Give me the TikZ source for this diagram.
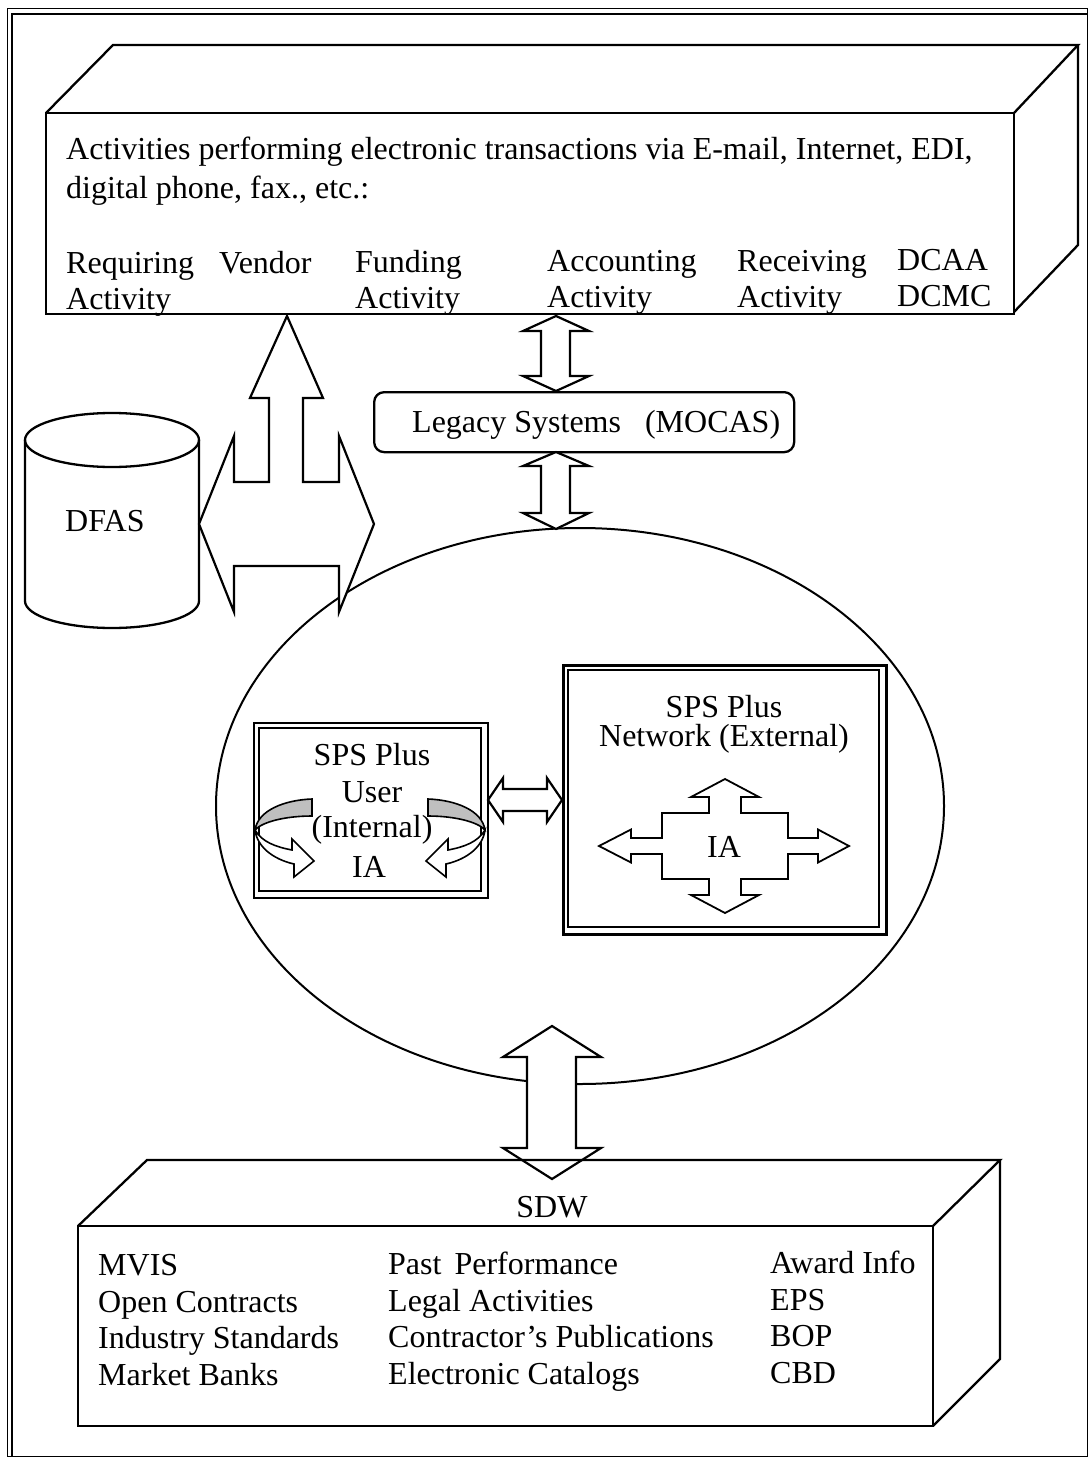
\documentclass[tikz,border=0pt]{standalone}
\usepackage{fontspec}
\setmainfont{Liberation Serif}
\begin{document}
\begin{tikzpicture}[x=1pt,y=-1pt,line join=miter]
\tikzset{
  ol/.style={line width=2.3pt},
  thinol/.style={line width=1.4pt},
  blockarrow/.style={line width=2.2pt,fill=white},
  txt/.style={font=\fontsize{32}{37}\selectfont,inner sep=0pt,anchor=base west},
  ctxt/.style={font=\fontsize{32}{37}\selectfont,inner sep=0pt,anchor=base},
  shade/.style={line width=1.6pt,fill=black!25},
  curlarrow/.style={line width=1.6pt,fill=white}
}
\useasboundingbox (0,0) rectangle (1089,1458);
\fill[white] (0,0) rectangle (1089,1458);

% frame
\draw[line width=1pt] (7,9) -- (1087,9) -- (1087,1456) -- (7,1456) -- cycle;
\draw[line width=2.2pt] (12,1456) -- (12,14) -- (1087,14);

% top box (3D)
\draw[ol] (46,113) rectangle (1014,314);
\draw[ol] (46,113) -- (113,45) -- (1078,45) -- (1014,113);
\draw[ol] (1078,45) -- (1078,245) -- (1014,312);

\node[txt] (t1) at (66,160) {Activities performing electronic transactions via E-mail, Internet, EDI,};
\node[txt] (t2) at (66,198) {digital phone, fax., etc.:};
\node[txt] (req) at (66,273) {Requiring};
\node[txt] (reqa) at (66,309) {Activity};
\node[txt] (ven) at (219,273) {Vendor};
\node[txt] (fun) at (355,272) {Funding};
\node[txt] (funa) at (355,308) {Activity};
\node[txt] (acc) at (547,271) {Accounting};
\node[txt] (acca) at (547,307) {Activity};
\node[txt] (rec) at (737,271) {Receiving};
\node[txt] (reca) at (737,307) {Activity};
\node[txt] (dcaa) at (897,270) {DCAA};
\node[txt] (dcmc) at (897,306) {DCMC};

% DFAS cylinder
\draw[ol] (25,440) -- (25,601) arc[start angle=180,end angle=0,x radius=87,y radius=27] -- (199,440);
\draw[ol] (112,440) ellipse[x radius=87,y radius=27];
\node[txt] (dfas) at (65,531) {DFAS};

% ellipse
\draw[line width=2pt] (580,806) ellipse[x radius=364,y radius=278];

% combined up / left-right arrow
\draw[blockarrow] (287,316) -- (323,398) -- (303,398) -- (303,482) -- (339,482) -- (339,436)
  -- (374,524) -- (339,612) -- (339,566) -- (234,566) -- (234,612) -- (199,524)
  -- (234,436) -- (234,482) -- (269,482) -- (269,398) -- (250,398) -- cycle;

% legacy box
\node[draw,ol,rounded corners=10pt,minimum width=420pt,minimum height=60pt,inner sep=0pt,anchor=north west] (legacy) at (373,391) {};
\node[txt] (legtxt) at (412,432) {Legacy Systems\hspace{24pt}(MOCAS)};

% vertical double arrows around legacy
\draw[blockarrow] (556,316) -- (589,331) -- (570,331) -- (570,376) -- (589,376) -- (556,391)
  -- (523,376) -- (541,376) -- (541,331) -- (523,331) -- cycle;
\draw[blockarrow] (556,452) -- (589,466) -- (570,466) -- (570,513) -- (589,513) -- (556,529)
  -- (523,513) -- (541,513) -- (541,466) -- (523,466) -- cycle;

% SPS Plus User box
\node[draw,line width=2.4pt,minimum width=234pt,minimum height=175pt,inner sep=0pt,anchor=north west] (user) at (253,722) {};
\draw[thinol] (259,728) rectangle (481,891);
\node[ctxt] (u1) at (372,765) {SPS Plus};
\node[ctxt] (u2) at (372,802) {User};
\node[ctxt] (u3) at (372,837) {(Internal)};
\node[ctxt] (u4) at (369,877) {IA};

% curl arrows (left, then mirrored right)
\foreach \sh/\sc in {0/1,740/-1}{
\begin{scope}[shift={(\sh,0)},xscale=\sc]
\draw[shade] (312,799) .. controls (285,800) and (258,810) .. (255,830)
   .. controls (262,822) and (285,816) .. (312,816) -- cycle;
\draw[curlarrow] (255,830) .. controls (257,846) and (272,859) .. (294,864)
   -- (294,877) -- (314,861) -- (292,839) -- (292,850)
   .. controls (276,847) and (262,842) .. (255,830) -- cycle;
\end{scope}}

% horizontal double arrow between boxes
\draw[blockarrow] (488,800) -- (503,778) -- (503,789) -- (547,789) -- (547,778) -- (562,800)
  -- (547,822) -- (547,811) -- (503,811) -- (503,822) -- cycle;

% SPS Plus Network box
\node[draw,line width=2.6pt,minimum width=323pt,minimum height=269pt,inner sep=0pt,anchor=north west] (net) at (562,664) {};
\draw[thinol] (568,670) rectangle (879,927);
\node[ctxt] (n1) at (724,717) {SPS Plus};
\node[ctxt] (n2) at (724,746) {Network (External)};

% four-way arrow
\begin{scope}[shift={(725,846)}]
\draw[line width=1.8pt,fill=white]
  (0,-67) -- (34,-49) -- (16,-49) -- (16,-33) -- (63,-33) -- (63,-8) -- (93,-8) -- (93,-16.5)
  -- (124,0) -- (93,16.5) -- (93,8) -- (63,8) -- (63,33) -- (16,33) -- (16,49) -- (34,49)
  -- (0,67) -- (-34,49) -- (-16,49) -- (-16,33) -- (-63,33) -- (-63,8) -- (-94,8) -- (-94,16.5)
  -- (-126,0) -- (-94,-16.5) -- (-94,-8) -- (-63,-8) -- (-63,-33) -- (-16,-33) -- (-16,-49)
  -- (-34,-49) -- cycle;
\end{scope}
\node[ctxt] (nia) at (724,857) {IA};

% big vertical double arrow to SDW
\draw[blockarrow] (552,1026) -- (601,1057) -- (576,1057) -- (576,1148) -- (601,1148) -- (552,1179)
  -- (503,1148) -- (527,1148) -- (527,1057) -- (503,1057) -- cycle;

% SDW box (3D)
\draw[ol] (78,1226) rectangle (933,1426);
\draw[ol] (78,1226) -- (147,1160) -- (1000,1160) -- (933,1226);
\draw[ol] (1000,1160) -- (1000,1359) -- (933,1426);
\node[ctxt] (sdw) at (552,1217) {SDW};

\node[txt] (b1) at (98,1275) {MVIS};
\node[txt] (b2) at (98,1312) {Open Contracts};
\node[txt] (b3) at (98,1348) {Industry Standards};
\node[txt] (b4) at (98,1385) {Market Banks};
\node[txt] (c1) at (388,1274) {Past\hspace{13pt}Performance};
\node[txt] (c2) at (388,1311) {Legal Activities};
\node[txt] (c3) at (388,1347) {Contractor’s Publications};
\node[txt] (c4) at (388,1384) {Electronic Catalogs};
\node[txt] (d1) at (770,1273) {Award Info};
\node[txt] (d2) at (770,1310) {EPS};
\node[txt] (d3) at (770,1346) {BOP};
\node[txt] (d4) at (770,1383) {CBD};
\end{tikzpicture}
\end{document}
